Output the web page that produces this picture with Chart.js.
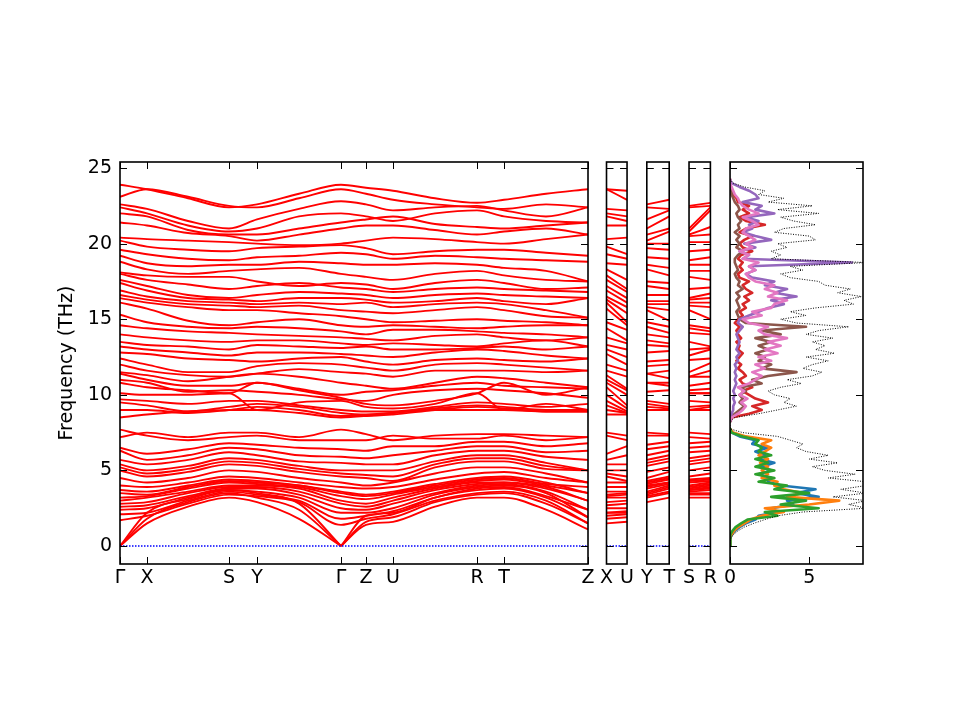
<!DOCTYPE html>
<html>
<head>
<meta charset="utf-8">
<script src="https://cdn.jsdelivr.net/npm/chart.js@4.4.1/dist/chart.umd.min.js"></script>
<style>
  html, body { margin: 0; padding: 0; background: #fff; }
  #fig { position: relative; width: 960px; height: 720px; background: #fff; overflow: hidden; }
  #fig canvas { position: absolute; top: 0; }
</style>
</head>
<body>
<div id="fig">
  <canvas id="bands" width="600" height="720" style="left:0px"></canvas>
  <canvas id="sideXU" width="40" height="720" style="left:597px"></canvas>
  <canvas id="sideYT" width="40" height="720" style="left:638px"></canvas>
  <canvas id="sideSR" width="40" height="720" style="left:680px"></canvas>
  <canvas id="dos" width="150" height="720" style="left:721px"></canvas>
</div>
<script>
// path: Γ X (mid) S Y (mid) Γ Z U (mid) R T (mid) Z
var kDist = [0, 0.27, 0.68, 1.09, 1.37, 1.79, 2.21, 2.46, 2.73, 3.15, 3.57, 3.84, 4.26, 4.68];
var kTickPos = [0, 0.27, 1.09, 1.37, 2.21, 2.46, 2.73, 3.57, 3.84, 4.68];
var kTickLabels = ['Γ', 'X', 'S', 'Y', 'Γ', 'Z', 'U', 'R', 'T', 'Z'];
// extra segments: [label from, label to, index of start in kDist, index of end]
var sideSegments = [['X', 'U', 1, 8], ['Y', 'T', 4, 11], ['S', 'R', 3, 10]];
var freqTicks = [0, 5, 10, 15, 20, 25];
var yMin = -1.19, yMax = 25.4;

var acousticBands = [
  [0, 1.5, 2.6, 3.2, 2.9, 1.8, 0, 1.4, 1.6, 2.6, 3.2, 3.2, 2.4, 1.1],
  [0, 1.8, 2.9, 3.5, 3.2, 2.4, 0, 1.6, 1.9, 2.9, 3.4, 3.5, 2.8, 1.5],
  [0, 2.2, 3.1, 3.7, 3.5, 2.8, 0, 2.0, 2.2, 3.2, 3.7, 3.8, 3.2, 1.9]
];

var lowBands = [
  [1.7, 2.0, 2.8, 3.4, 3.3, 2.9, 1.4, 1.8, 2.1, 3.0, 3.5, 3.6, 3.0, 1.5],
  [2.1, 2.2, 3.0, 3.6, 3.4, 3.0, 1.8, 2.0, 2.3, 3.2, 3.8, 3.9, 3.3, 2.4],
  [2.4, 2.5, 3.2, 3.7, 3.6, 3.2, 2.2, 2.2, 2.5, 3.4, 3.9, 4.0, 3.5, 1.9],
  [2.6, 2.7, 3.3, 3.8, 3.8, 3.4, 2.5, 2.4, 2.8, 3.5, 4.0, 4.1, 3.6, 2.4],
  [2.8, 2.9, 3.5, 3.9, 3.9, 3.6, 2.8, 2.6, 3.0, 3.7, 4.1, 4.2, 3.8, 3.0],
  [3.0, 3.2, 3.6, 4.0, 4.0, 3.8, 3.0, 2.8, 3.2, 3.8, 4.2, 4.2, 3.9, 3.0],
  [3.2, 3.3, 3.8, 4.2, 4.1, 3.9, 3.3, 3.1, 3.4, 3.9, 4.3, 4.4, 4.0, 3.5],
  [3.5, 3.4, 3.9, 4.3, 4.2, 4.0, 3.5, 3.3, 3.5, 4.0, 4.4, 4.5, 4.1, 3.9],
  [3.7, 3.6, 4.0, 4.4, 4.3, 4.0, 3.6, 3.4, 3.6, 4.1, 4.5, 4.6, 4.2, 3.5],
  [4.0, 3.9, 4.2, 4.6, 4.5, 4.2, 3.9, 3.8, 3.9, 4.4, 4.8, 4.9, 4.5, 4.2],
  [4.5, 4.2, 4.5, 5.0, 4.9, 4.5, 4.2, 4.0, 4.2, 4.8, 5.2, 5.2, 4.8, 4.2],
  [5.0, 4.6, 4.9, 5.4, 5.3, 4.9, 4.6, 4.5, 4.3, 5.2, 5.6, 5.6, 5.1, 5.0],
  [5.2, 4.8, 5.1, 5.6, 5.5, 5.1, 4.8, 4.7, 4.6, 5.4, 5.8, 5.8, 5.3, 5.0],
  [5.4, 5.0, 5.3, 5.8, 5.7, 5.3, 5.0, 5.0, 5.0, 5.6, 6.0, 6.0, 5.5, 5.0],
  [5.7, 5.4, 5.7, 6.2, 6.0, 5.6, 5.5, 5.4, 5.4, 6.0, 6.3, 6.3, 5.9, 5.7],
  [6.3, 5.7, 6.0, 6.5, 6.4, 6.0, 5.9, 5.8, 6.0, 6.3, 6.6, 6.6, 6.2, 6.3],
  [6.5, 6.1, 6.4, 6.8, 6.7, 6.5, 6.4, 6.3, 6.6, 6.6, 6.9, 6.9, 6.6, 6.8],
  [7.7, 7.3, 7.0, 7.2, 7.3, 7.0, 7.0, 7.0, 7.3, 7.1, 7.1, 7.3, 7.0, 7.2],
  [7.2, 7.5, 7.2, 7.5, 7.5, 7.2, 7.7, 7.4, 7.0, 7.3, 7.4, 7.4, 7.3, 7.2]
];

var highBands = [
  [23.9, 23.6, 23.0, 22.4, 22.6, 23.3, 23.9, 23.7, 23.5, 23.0, 22.7, 22.9, 23.3, 23.6],
  [23.1, 23.6, 23.1, 22.5, 22.4, 23.0, 23.6, 23.3, 22.9, 22.6, 22.4, 22.3, 22.6, 22.4],
  [22.6, 22.3, 21.5, 21.0, 21.6, 22.3, 22.8, 22.6, 22.2, 22.4, 22.5, 22.2, 21.8, 22.4],
  [22.4, 22.0, 21.2, 20.8, 21.0, 21.8, 22.0, 21.8, 21.5, 22.0, 22.2, 21.8, 21.5, 21.4],
  [22.0, 21.8, 20.9, 20.6, 20.6, 21.0, 21.4, 21.6, 21.8, 21.3, 21.1, 21.0, 21.2, 21.4],
  [21.4, 21.2, 20.7, 20.5, 20.2, 20.6, 21.0, 21.2, 21.2, 20.9, 20.6, 20.8, 21.0, 20.6],
  [20.4, 20.3, 20.2, 20.1, 20.0, 19.9, 20.0, 20.2, 20.4, 20.3, 20.1, 20.0, 20.3, 20.6],
  [20.2, 19.8, 19.6, 19.5, 19.7, 19.8, 19.9, 19.7, 19.3, 19.5, 19.6, 19.6, 19.4, 19.2],
  [19.6, 19.3, 19.0, 18.9, 19.1, 19.2, 19.4, 19.3, 19.0, 19.2, 19.1, 19.0, 18.9, 18.8],
  [19.2, 18.7, 18.5, 18.6, 18.6, 18.8, 18.7, 18.6, 18.6, 18.7, 18.6, 18.4, 18.2, 17.5],
  [18.8, 18.3, 18.0, 18.2, 18.3, 18.4, 18.0, 17.8, 17.6, 18.0, 18.2, 17.9, 17.6, 17.5],
  [18.1, 17.9, 17.8, 17.8, 17.5, 17.2, 17.4, 17.3, 17.0, 17.4, 17.6, 17.4, 17.0, 17.1],
  [18.0, 17.6, 17.3, 17.0, 17.2, 17.4, 17.1, 17.0, 16.8, 17.0, 17.1, 17.0, 16.9, 16.8],
  [17.6, 17.2, 16.6, 16.4, 16.6, 16.8, 16.7, 16.6, 16.4, 16.6, 16.7, 16.6, 16.5, 16.4],
  [17.4, 16.9, 16.4, 16.3, 16.2, 16.4, 16.4, 16.3, 16.1, 16.2, 16.4, 16.2, 16.0, 16.4],
  [16.9, 16.5, 16.2, 16.1, 16.0, 16.1, 16.0, 16.1, 15.8, 16.0, 16.1, 16.0, 15.6, 15.1],
  [16.6, 16.3, 16.0, 15.9, 15.8, 15.9, 15.6, 15.5, 15.4, 15.6, 15.8, 15.6, 15.2, 15.1],
  [16.4, 16.1, 15.8, 15.6, 15.6, 15.4, 15.2, 15.0, 14.8, 14.9, 15.0, 14.9, 14.8, 14.6],
  [16.1, 15.7, 14.9, 14.6, 14.8, 15.0, 14.6, 14.5, 14.6, 14.5, 14.4, 14.5, 14.6, 14.6],
  [15.3, 14.8, 14.5, 14.4, 14.5, 14.4, 14.2, 14.0, 14.3, 14.3, 14.2, 14.1, 14.0, 13.8],
  [14.6, 14.4, 14.2, 14.1, 14.0, 13.9, 13.8, 13.7, 13.6, 13.9, 14.0, 13.8, 13.6, 13.8],
  [14.0, 13.8, 13.6, 13.5, 13.6, 13.6, 13.4, 13.3, 13.4, 13.3, 13.2, 13.4, 13.6, 13.2],
  [13.5, 13.3, 13.2, 13.0, 13.3, 13.2, 13.1, 13.2, 13.0, 13.0, 13.1, 13.2, 13.0, 13.2],
  [13.2, 13.0, 12.8, 12.6, 12.8, 12.8, 12.7, 12.6, 12.5, 12.8, 13.0, 12.9, 12.6, 12.4],
  [12.8, 12.7, 12.4, 12.3, 12.2, 12.4, 12.5, 12.2, 12.0, 12.3, 12.4, 12.3, 12.2, 12.4],
  [12.4, 12.0, 11.5, 11.5, 11.9, 12.1, 12.0, 11.8, 11.6, 12.0, 12.1, 12.0, 11.8, 11.6],
  [12.0, 11.6, 11.3, 11.2, 11.4, 11.7, 11.5, 11.4, 11.2, 11.6, 11.6, 11.6, 11.5, 11.6],
  [11.5, 11.3, 10.9, 11.2, 11.4, 11.2, 10.8, 10.6, 10.4, 10.8, 11.2, 11.1, 10.8, 10.5],
  [11.4, 11.0, 10.6, 10.6, 10.8, 10.4, 10.0, 10.2, 10.3, 10.6, 10.8, 10.6, 10.5, 10.4],
  [11.0, 10.8, 10.2, 10.3, 10.2, 10.0, 9.7, 9.6, 10.0, 10.3, 10.4, 10.3, 10.1, 9.8],
  [10.8, 10.5, 10.3, 10.1, 10.8, 10.3, 9.8, 9.4, 9.3, 9.6, 10.1, 10.8, 10.0, 10.5],
  [10.1, 10.0, 10.0, 10.1, 9.0, 9.5, 9.6, 9.2, 9.1, 9.4, 10.1, 9.0, 9.4, 9.0],
  [9.7, 9.6, 9.4, 9.6, 9.6, 9.3, 9.0, 8.9, 8.9, 9.2, 9.5, 9.4, 9.2, 9.4],
  [9.5, 9.3, 8.9, 9.2, 9.4, 9.2, 8.8, 8.7, 8.8, 9.1, 9.3, 9.2, 9.0, 9.0],
  [9.0, 9.0, 8.8, 9.0, 9.2, 9.0, 8.6, 8.6, 8.7, 9.0, 9.2, 9.1, 8.9, 8.9],
  [8.5, 8.7, 8.9, 9.0, 9.0, 8.8, 8.5, 8.6, 8.8, 9.0, 9.0, 9.0, 8.9, 8.9]
];

// phonon DOS, frequency grid in THz
var dosFreq = [0, 0.25, 0.5, 0.75, 1, 1.25, 1.5, 1.75, 2, 2.25, 2.5, 2.75, 3, 3.25, 3.5, 3.75,
  4, 4.25, 4.5, 4.75, 5, 5.25, 5.5, 5.75, 6, 6.25, 6.5, 6.75, 7, 7.25, 7.5, 7.75,
  8, 8.25, 8.5, 8.75, 9, 9.25, 9.5, 9.75, 10, 10.25, 10.5, 10.75, 11, 11.25, 11.5, 11.75,
  12, 12.25, 12.5, 12.75, 13, 13.25, 13.5, 13.75, 14, 14.25, 14.5, 14.75, 15, 15.25, 15.5, 15.75,
  16, 16.25, 16.5, 16.75, 17, 17.25, 17.5, 17.75, 18, 18.25, 18.5, 18.75, 19, 19.25, 19.5, 19.75,
  20, 20.25, 20.5, 20.75, 21, 21.25, 21.5, 21.75, 22, 22.25, 22.5, 22.75, 23, 23.25, 23.5, 23.75,
  24, 24.25];
var dosTotal = [0, 0, 0.05, 0.2, 0.5, 0.9, 1.5, 2.2,
  3.0, 4.6, 8.6, 7.5, 8.6, 6.5, 8.6, 7.0,
  8.6, 8.6, 6.2, 7.9, 6.0, 5.2, 6.8, 5.0,
  6.2, 4.8, 4.2, 4.6, 3.8, 3.0, 0.8, 0,
  0, 0, 0.3, 1.8, 3.0, 4.2, 3.4, 3.8,
  2.8, 2.4, 3.2, 4.5, 3.6, 5.2, 5.8, 4.6,
  5.2, 6.2, 4.8, 6.6, 5.4, 6.0, 5.2, 6.5,
  4.8, 5.6, 7.5, 4.2, 3.2, 4.8, 3.8, 5.4,
  7.8, 7.2, 8.3, 6.8, 7.6, 6.0, 5.6, 3.8,
  3.2, 4.6, 3.8, 8.6, 2.6, 3.2, 2.6, 3.6,
  3.0, 5.4, 5.0, 2.8, 3.4, 5.4, 4.0, 3.2,
  5.6, 3.0, 5.2, 2.4, 3.4, 1.8, 2.2, 0.9,
  0.2, 0];
// low-frequency partials: dosFreq[0..31]
var dosBlue = [0, 0, 0.02, 0.1, 0.3, 0.6, 1.0, 1.6, 1.8, 3.0, 2.6, 4.0, 3.6, 5.6, 4.2, 5.4,
  3.2, 2.4, 2.6, 1.8, 2.6, 2.0, 2.8, 1.8, 2.2, 1.6, 2.4, 1.4, 1.6, 0.6, 0.1, 0];
var dosOrange = [0, 0, 0.02, 0.08, 0.25, 0.5, 0.9, 1.3, 2.0, 3.4, 2.2, 5.0, 6.9, 3.6, 4.6, 3.4,
  2.8, 3.0, 2.0, 2.4, 2.0, 2.4, 1.9, 2.4, 1.8, 2.2, 2.6, 2.0, 2.6, 1.0, 0.2, 0];
var dosGreen = [0, 0, 0.02, 0.05, 0.15, 0.35, 0.7, 1.1, 3.0, 2.2, 5.6, 3.2, 4.8, 2.6, 5.0, 2.8,
  3.6, 1.8, 2.8, 1.6, 2.8, 1.6, 2.4, 1.6, 2.6, 1.8, 2.0, 1.6, 1.8, 0.8, 0.1, 0];
// high-frequency partials: dosFreq[33..97]
var dosRed = [0, 0.1, 1.2, 2.0, 1.4, 2.4, 1.6, 1.2,
  0.8, 1.4, 0.8, 0.6, 1.0, 0.8, 0.5, 0.7,
  0.4, 0.6, 0.8, 0.5, 0.6, 0.4, 0.7, 0.5,
  0.4, 0.6, 0.3, 0.5, 0.8, 0.6, 1.0, 0.8,
  1.2, 0.9, 1.4, 1.0, 0.8, 1.2, 0.6, 0.5,
  0.8, 0.6, 0.8, 0.5, 0.7, 1.4, 0.8, 0.6,
  0.9, 1.4, 0.6, 1.0, 2.2, 1.0, 0.6, 1.2,
  0.8, 1.2, 0.5, 0.4, 0.2, 0.1, 0.05, 0,
  0];
var dosPurple = [0, 0, 0.1, 0.2, 0.2, 0.3, 0.2, 0.3,
  0.2, 0.3, 0.4, 0.3, 0.4, 0.3, 0.4, 0.3,
  0.5, 0.4, 0.6, 0.4, 0.5, 0.6, 0.5, 0.4,
  0.6, 0.8, 0.5, 0.6, 1.2, 1.8, 2.4, 3.4,
  2.6, 4.2, 2.8, 3.6, 2.2, 2.8, 1.4, 1.0,
  1.6, 1.2, 7.7, 0.8, 1.2, 0.6, 1.6, 0.9,
  2.6, 1.6, 0.8, 1.4, 1.2, 1.8, 1.0, 2.8,
  1.6, 2.0, 0.8, 1.8, 1.6, 1.2, 0.6, 0.1,
  0];
var dosBrown = [0, 0.05, 0.3, 0.6, 0.9, 0.6, 0.8, 0.6,
  1.0, 0.7, 2.0, 1.4, 2.4, 4.2, 2.0, 2.6,
  1.8, 2.2, 1.6, 2.4, 1.8, 2.6, 1.6, 3.2,
  2.0, 4.8, 1.0, 0.6, 0.5, 0.4, 0.6, 0.5,
  0.4, 0.6, 0.4, 0.8, 0.5, 0.6, 0.4, 0.3,
  0.5, 0.4, 0.3, 0.3, 0.5, 0.8, 0.4, 0.6,
  0.4, 0.6, 0.3, 0.6, 0.5, 0.7, 0.5, 0.4,
  0.6, 0.5, 0.3, 0.2, 0.1, 0.1, 0.05, 0,
  0];
var dosPink = [0, 0.1, 0.5, 0.8, 1.0, 0.7, 1.1, 0.6,
  0.9, 0.5, 1.2, 1.6, 2.0, 1.4, 2.2, 1.6,
  2.6, 1.8, 3.0, 2.2, 3.2, 2.4, 3.6, 2.2,
  1.8, 2.4, 1.2, 0.8, 2.0, 1.4, 2.6, 2.8,
  3.6, 2.4, 3.0, 2.2, 2.8, 1.6, 1.2, 1.0,
  1.6, 1.2, 1.8, 0.8, 1.2, 0.6, 1.4, 1.0,
  1.6, 1.2, 0.8, 1.0, 1.8, 1.4, 0.8, 1.8,
  1.2, 0.8, 0.6, 0.5, 0.3, 0.2, 0.1, 0,
  0];
var dosMax = 8.4;

var FONT = { family: 'DejaVu Sans', size: 19 };

// frame round the plot area plus inward ticks, like the matplotlib original
var framePlugin = {
  id: 'frame',
  afterDatasetsDraw: function(chart, args, opts){
    var a = chart.chartArea, ctx = chart.ctx;
    var xs = chart.scales.x, ys = chart.scales.y;
    ctx.save();
    ctx.strokeStyle = '#000';
    ctx.lineWidth = 1;
    ctx.beginPath();
    (opts.xTicks || []).forEach(function(v){
      var p = Math.round(xs.getPixelForValue(v)) + 0.5;
      ctx.moveTo(p, a.bottom); ctx.lineTo(p, a.bottom - 7);
      ctx.moveTo(p, a.top); ctx.lineTo(p, a.top + 7);
    });
    freqTicks.forEach(function(v){
      var p = Math.round(ys.getPixelForValue(v)) + 0.5;
      ctx.moveTo(a.left, p); ctx.lineTo(a.left + 7, p);
      ctx.moveTo(a.right, p); ctx.lineTo(a.right - 7, p);
    });
    ctx.stroke();
    ctx.lineWidth = 1.6;
    ctx.strokeRect(a.left, a.top, a.right - a.left, a.bottom - a.top);
    ctx.restore();
  }
};

function yScale(show){
  return {
    type: 'linear', min: yMin, max: yMax,
    afterBuildTicks: function(s){ s.ticks = freqTicks.map(function(v){ return { value: v }; }); },
    afterFit: function(s){ s.width = show ? 120 : 0; },
    grid: { display: false, drawTicks: false },
    border: { display: false },
    ticks: { display: show, padding: 8, color: '#000', font: FONT },
    title: { display: show, text: 'Frequency (THz)', color: '#000', font: FONT, padding: { top: 56, bottom: 0 } }
  };
}

function xScale(min, max, tickPos, labels){
  return {
    type: 'linear', min: min, max: max,
    afterBuildTicks: function(s){ s.ticks = tickPos.map(function(v){ return { value: v }; }); },
    afterFit: function(s){ s.height = 156; },
    grid: { display: false, drawTicks: false },
    border: { display: false },
    ticks: {
      padding: 3, color: '#000', font: FONT, maxRotation: 0, autoSkip: false,
      callback: function(v, i){ return labels[i]; }
    }
  };
}

function bandLine(points){
  return {
    data: points, showLine: true, borderColor: '#ff0000', borderWidth: 1.9,
    pointRadius: 0, fill: false, cubicInterpolationMode: 'monotone'
  };
}

function zeroLine(x0, x1){
  return {
    data: [{ x: x0, y: 0 }, { x: x1, y: 0 }], showLine: true,
    borderColor: '#0000ff', borderWidth: 1.3, borderDash: [1.5, 1.5], pointRadius: 0
  };
}

function makeChart(id, datasets, xs, showY, left, right, xTicks){
  return new Chart(document.getElementById(id), {
    type: 'scatter',
    data: { datasets: datasets },
    options: {
      responsive: false, animation: false, events: [],
      layout: { padding: { left: left, right: right, top: 162, bottom: 0 }, autoPadding: false },
      plugins: { legend: { display: false }, tooltip: { enabled: false }, frame: { xTicks: xTicks } },
      scales: { x: xs, y: yScale(showY) }
    },
    plugins: [framePlugin]
  });
}

function pts(band, from, to){
  var out = [];
  for (var i = from; i <= to; i++) out.push({ x: kDist[i], y: band[i] });
  return out;
}

// main band panel
var allBands = acousticBands.concat(lowBands, highBands);
var mainSets = [zeroLine(0, kDist[kDist.length - 1])];
acousticBands.forEach(function(b){
  mainSets.push(bandLine(pts(b, 0, 6)));
  mainSets.push(bandLine(pts(b, 6, kDist.length - 1)));
});
lowBands.concat(highBands).forEach(function(b){
  mainSets.push(bandLine(pts(b, 0, kDist.length - 1)));
});
makeChart('bands', mainSets, xScale(0, kDist[kDist.length - 1], kTickPos, kTickLabels), true, 0, 12, kTickPos);

// the three short segments: band energies at both ends, joined in order
function byValue(a, b){ return a - b; }
var sideIds = ['sideXU', 'sideYT', 'sideSR'];
sideSegments.forEach(function(seg, n){
  var starts = allBands.map(function(b){ return b[seg[2]]; }).sort(byValue);
  var ends = allBands.map(function(b){ return b[seg[3]]; }).sort(byValue);
  var sets = [zeroLine(0, 1)];
  starts.forEach(function(v, i){
    sets.push(bandLine([{ x: 0, y: v }, { x: 1, y: ends[i] }]));
  });
  makeChart(sideIds[n], sets, xScale(0, 1, [0, 1], [seg[0], seg[1]]), false, 8, 8, []);
});

// DOS panel
function dosLine(vals, offset, color, width, dash){
  var d = vals.map(function(v, i){ return { x: v, y: dosFreq[offset + i] }; });
  return {
    data: d, showLine: true, borderColor: color, borderWidth: width, borderDash: dash || [],
    borderJoinStyle: 'round', borderCapStyle: 'round', pointRadius: 0, tension: 0
  };
}
var dosSets = [
  dosLine(dosTotal, 0, '#000000', 1, [1, 1.5]),
  dosLine(dosGreen, 0, '#2ca02c', 2.6),
  dosLine(dosOrange, 0, '#ff7f0e', 2.6),
  dosLine(dosBlue, 0, '#1f77b4', 2.6),
  dosLine(dosPink, 33, '#e377c2', 2.6),
  dosLine(dosPurple, 33, '#9467bd', 2.6),
  dosLine(dosBrown, 33, '#8c564b', 2.6),
  dosLine(dosRed, 33, '#d62728', 2.6)
];
dosSets[0].borderCapStyle = 'butt';
makeChart('dos', dosSets, xScale(0, dosMax, [0, 5], ['0', '5']), false, 8, 8, [0, 5]);
</script>
</body>
</html>
